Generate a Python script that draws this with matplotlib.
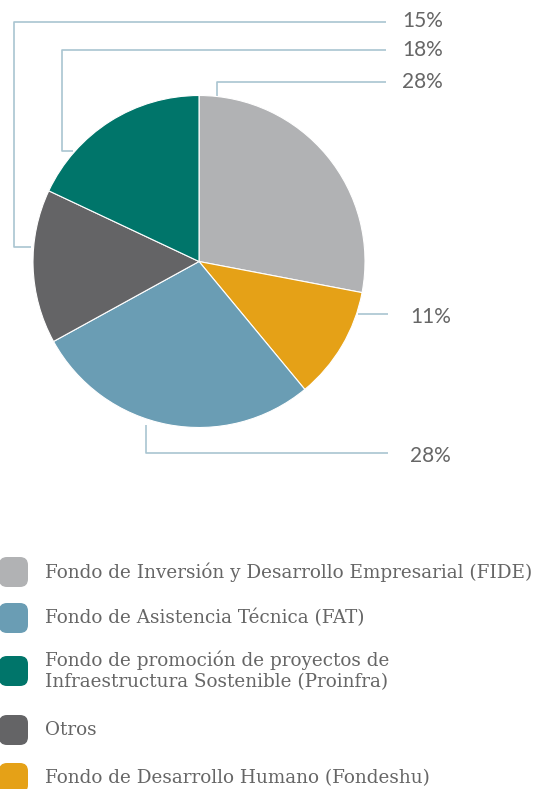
import numpy as np
import matplotlib.pyplot as plt
from matplotlib.patches import FancyBboxPatch

# data (percent share per fund)
labels = ["Fondo de Inversión y Desarrollo Empresarial (FIDE)",
          "Fondo de Desarrollo Humano (Fondeshu)",
          "Fondo de Asistencia Técnica (FAT)",
          "Otros",
          "Fondo de promoción de proyectos de\nInfraestructura Sostenible (Proinfra)"]
values = [28, 11, 28, 15, 18]
colors = ["#b1b2b4", "#e5a117", "#6a9db4", "#646466", "#00756a"]
legend_order = [0, 2, 4, 3, 1]

W, H = 534, 789
fig = plt.figure(figsize=(W / 100, H / 100), dpi=100)
ax = fig.add_axes([0, 0, 1, 1])

def py(y):
    # pixel row -> data y
    return H - y

cx, cy, r = 199, py(261.5), 166
ax.pie(values, colors=colors, startangle=90, counterclock=False,
       center=(cx, cy), radius=r,
       wedgeprops=dict(edgecolor="white", linewidth=0.8))
ax.set_xlim(0, W)
ax.set_ylim(0, H)
ax.set_aspect("equal")
ax.axis("off")

line_c = "#a9c5d1"
lw = 1.2
# leader lines: (polyline in pixel coords, label x, label y, value index)
leaders = [
    ([(31, 247), (14, 247), (14, 22), (386, 22)], 402, 21, 3),
    ([(73, 151), (62, 151), (62, 50), (386, 50)], 402, 50, 4),
    ([(217, 98), (217, 82), (386, 82)], 402, 82, 0),
    ([(358, 314), (388, 314)], 410, 317, 1),
    ([(146, 425), (146, 453), (388, 453)], 410, 456, 2),
]
for pts, lx, ly, i in leaders:
    xs = [p[0] for p in pts]
    ys = [py(p[1]) for p in pts]
    ax.plot(xs, ys, color=line_c, lw=lw, solid_capstyle="butt", zorder=0)
    ax.text(lx, py(ly), f"{values[i]}%", ha="left", va="center",
            fontsize=15, color="#666666", family=["Lato", "DejaVu Sans"])

# legend
rows_y = [572, 618, 671, 730, 778]
for k, i in enumerate(legend_order):
    y = rows_y[k]
    box = FancyBboxPatch((-1, py(y) - 15), 29, 30,
                         boxstyle="round,pad=0,rounding_size=8",
                         fc=colors[i], ec="none", clip_on=False)
    ax.add_patch(box)
    ax.text(45, py(y), labels[i], ha="left", va="center",
            fontsize=13.2, color="#666666", family=["DejaVu Serif"],
            linespacing=1.25)

fig.savefig("out.png", dpi=100)
